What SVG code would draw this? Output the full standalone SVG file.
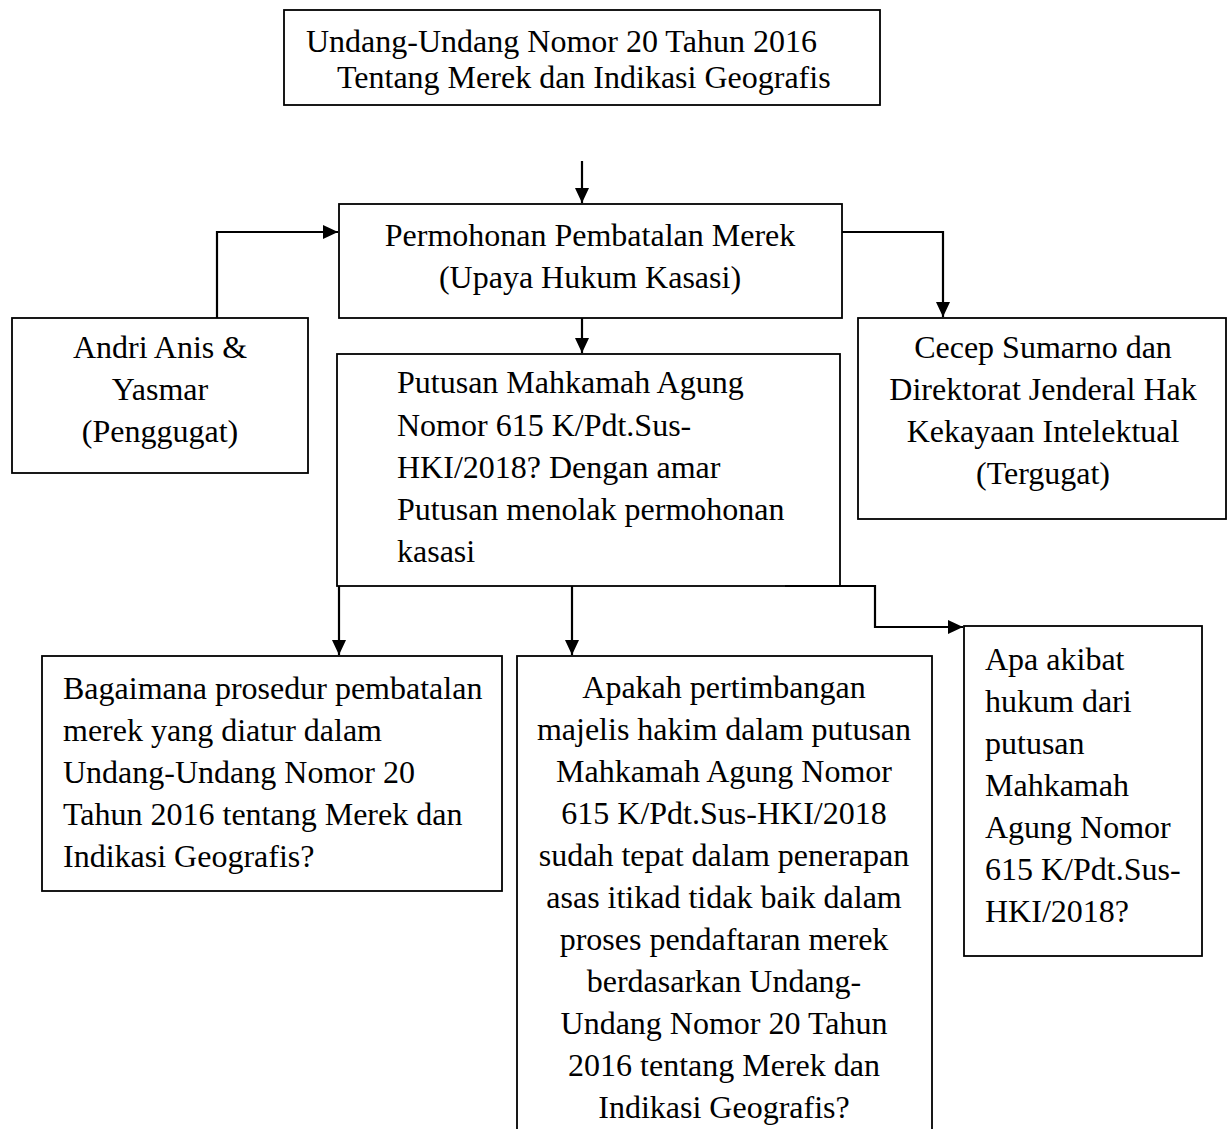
<svg xmlns="http://www.w3.org/2000/svg" width="1227" height="1129" viewBox="0 0 1227 1129">
  <style>
    .box { fill: #ffffff; stroke: #000000; stroke-width: 1.8; }
    .t { font-family: "Liberation Serif", "Times New Roman", serif; font-size: 32px; fill: #000000; }
    .c { text-anchor: middle; }
    .conn { fill: none; stroke: #000000; stroke-width: 2.2; }
  </style>
  <defs>
    <marker id="arrow" viewBox="0 0 15 14" refX="15" refY="7" markerWidth="15" markerHeight="14" markerUnits="userSpaceOnUse" orient="auto">
      <path d="M0,0 L15,7 L0,14 z" fill="#000000"/>
    </marker>
  </defs>

  <rect width="1227" height="1129" fill="#ffffff"/>

  <g id="node-uu">
    <rect class="box" x="284" y="10" width="596" height="95"/>
    <text class="t" x="306" y="52">Undang-Undang Nomor 20 Tahun 2016</text>
    <text class="t" x="337" y="88">Tentang Merek dan Indikasi Geografis</text>
  </g>

  <g id="node-permohonan">
    <rect class="box" x="339" y="204" width="503" height="114"/>
    <text class="t c" x="590" y="246">Permohonan Pembatalan Merek</text>
    <text class="t c" x="590" y="288">(Upaya Hukum Kasasi)</text>
  </g>

  <g id="node-penggugat">
    <rect class="box" x="12" y="318" width="296" height="155"/>
    <text class="t c" x="160" y="358">Andri Anis &amp;</text>
    <text class="t c" x="160" y="400">Yasmar</text>
    <text class="t c" x="160" y="442">(Penggugat)</text>
  </g>

  <g id="node-tergugat">
    <rect class="box" x="858" y="318" width="368" height="201"/>
    <text class="t c" x="1043" y="358">Cecep Sumarno dan</text>
    <text class="t c" x="1043" y="400">Direktorat Jenderal Hak</text>
    <text class="t c" x="1043" y="442">Kekayaan Intelektual</text>
    <text class="t c" x="1043" y="484">(Tergugat)</text>
  </g>

  <g id="node-putusan">
    <rect class="box" x="337" y="354" width="503" height="232"/>
    <text class="t" x="397" y="393">Putusan Mahkamah Agung</text>
    <text class="t" x="397" y="436">Nomor 615 K/Pdt.Sus-</text>
    <text class="t" x="397" y="478">HKI/2018? Dengan amar</text>
    <text class="t" x="397" y="520">Putusan menolak permohonan</text>
    <text class="t" x="397" y="562">kasasi</text>
  </g>

  <g id="node-q1">
    <rect class="box" x="42" y="656" width="460" height="235"/>
    <text class="t" x="63" y="699">Bagaimana prosedur pembatalan</text>
    <text class="t" x="63" y="741">merek yang diatur dalam</text>
    <text class="t" x="63" y="783">Undang-Undang Nomor 20</text>
    <text class="t" x="63" y="825">Tahun 2016 tentang Merek dan</text>
    <text class="t" x="63" y="867">Indikasi Geografis?</text>
  </g>

  <g id="node-q2">
    <rect class="box" x="517" y="656" width="415" height="490"/>
    <text class="t c" x="724" y="698">Apakah pertimbangan</text>
    <text class="t c" x="724" y="740">majelis hakim dalam putusan</text>
    <text class="t c" x="724" y="782">Mahkamah Agung Nomor</text>
    <text class="t c" x="724" y="824">615 K/Pdt.Sus-HKI/2018</text>
    <text class="t c" x="724" y="866">sudah tepat dalam penerapan</text>
    <text class="t c" x="724" y="908">asas itikad tidak baik dalam</text>
    <text class="t c" x="724" y="950">proses pendaftaran merek</text>
    <text class="t c" x="724" y="992">berdasarkan Undang-</text>
    <text class="t c" x="724" y="1034">Undang Nomor 20 Tahun</text>
    <text class="t c" x="724" y="1076">2016 tentang Merek dan</text>
    <text class="t c" x="724" y="1118">Indikasi Geografis?</text>
  </g>

  <g id="node-q3">
    <rect class="box" x="964" y="626" width="238" height="330"/>
    <text class="t" x="985" y="670">Apa akibat</text>
    <text class="t" x="985" y="712">hukum dari</text>
    <text class="t" x="985" y="754">putusan</text>
    <text class="t" x="985" y="796">Mahkamah</text>
    <text class="t" x="985" y="838">Agung Nomor</text>
    <text class="t" x="985" y="880">615 K/Pdt.Sus-</text>
    <text class="t" x="985" y="922">HKI/2018?</text>
  </g>

  <g id="connectors">
    <path class="conn" d="M582,161 V203" marker-end="url(#arrow)"/>
    <path class="conn" d="M217,318 V232 H338" marker-end="url(#arrow)"/>
    <path class="conn" d="M842,232 H943 V317" marker-end="url(#arrow)"/>
    <path class="conn" d="M582,318 V353" marker-end="url(#arrow)"/>
    <path class="conn" d="M339,586 V655" marker-end="url(#arrow)"/>
    <path class="conn" d="M572,586 V655" marker-end="url(#arrow)"/>
    <path class="conn" d="M785,586 H875 V627 H963" marker-end="url(#arrow)"/>
  </g>
</svg>
